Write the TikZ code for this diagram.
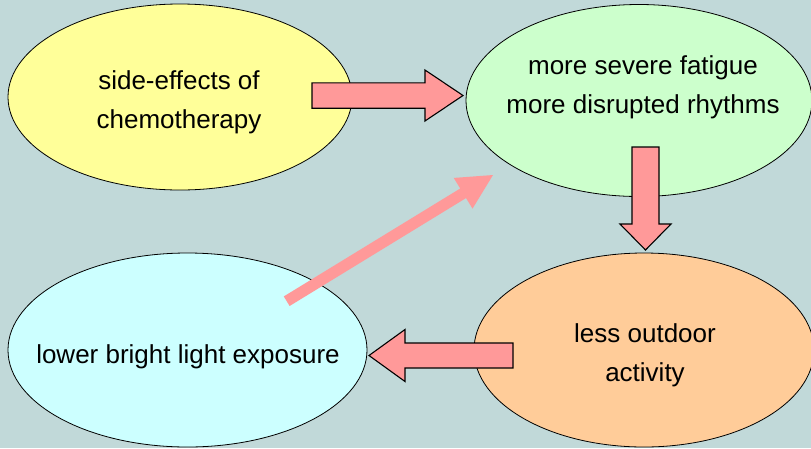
\documentclass[tikz,border=0pt]{standalone}
\usepackage{fontspec}
\setmainfont{Liberation Sans}
\usetikzlibrary{shapes.geometric, calc}

\definecolor{bgteal}{HTML}{C1D9D9}
\definecolor{yelfill}{HTML}{FFFF99}
\definecolor{grnfill}{HTML}{CCFFCC}
\definecolor{orgfill}{HTML}{FFCC99}
\definecolor{cynfill}{HTML}{CCFFFF}
\definecolor{arrpink}{HTML}{FF9999}

\tikzset{
    blob/.style={ellipse, draw=black, line width=0.8pt, inner sep=0pt},
    label text/.style={align=center, inner sep=0pt, font=\fontsize{26}{39}\selectfont},
    blockarrow/.style={draw=black, fill=arrpink, line width=1.1pt, line join=miter}
}

% block arrow: [style]{from}{to}{shaft half}{head half}{head length}
\newcommand\blockarrow[6][]{%
    \path[blockarrow,#1] let \p1=($(#3)-(#2)$), \n1={veclen(\x1,\y1)}, \n2={atan2(\y1,\x1)} in
        ([shift={(#2)},rotate=\n2]0pt,#4) -- ([shift={(#2)},rotate=\n2]\n1-#6,#4)
        -- ([shift={(#2)},rotate=\n2]\n1-#6,#5) -- ([shift={(#2)},rotate=\n2]\n1,0pt)
        -- ([shift={(#2)},rotate=\n2]\n1-#6,-#5) -- ([shift={(#2)},rotate=\n2]\n1-#6,-#4)
        -- ([shift={(#2)},rotate=\n2]0pt,-#4) -- cycle;}

\begin{document}
\begin{tikzpicture}[x=1pt, y=-1pt]
    \clip (0,0) rectangle (811,448);
    \fill[bgteal] (0,0) rectangle (811,448);
    % ellipses
    \node[blob, fill=yelfill, minimum width=344, minimum height=186] (yel) at (180,97) {};
    \node[blob, fill=grnfill, minimum width=346, minimum height=192] (grn) at (639,100.5) {};
    \node[blob, fill=orgfill, minimum width=340, minimum height=194] (org) at (644,350) {};
    \node[blob, fill=cynfill, minimum width=359, minimum height=194] (cyn) at (187.5,350) {};
    % texts
    \node[label text] (yeltxt) at (179,102) {side-effects of\\chemotherapy};
    \node[label text] (grntxt) at (643,87) {more severe fatigue\\more disrupted rhythms};
    \node[label text] (orgtxt) at (645,355.5) {less outdoor\\activity};
    \node[label text] (cyntxt) at (188,356.5) {lower bright light exposure};
    % arrow ends
    \coordinate (r0) at (312,95.5);   \coordinate (r1) at (463,95.5);
    \coordinate (d0) at (645.5,147);  \coordinate (d1) at (645.5,250);
    \coordinate (l0) at (513,355.5);  \coordinate (l1) at (369,355.5);
    \coordinate (g0) at (286.7,301.2); \coordinate (g1) at (493,175);
    % arrows
    \blockarrow{r0}{r1}{12.7pt}{25.5pt}{38pt}
    \blockarrow{d0}{d1}{13.5pt}{25.5pt}{26pt}
    \blockarrow{l0}{l1}{12.5pt}{26pt}{36pt}
    \blockarrow[draw=none]{g0}{g1}{5.6pt}{18pt}{35pt}
\end{tikzpicture}
\end{document}
